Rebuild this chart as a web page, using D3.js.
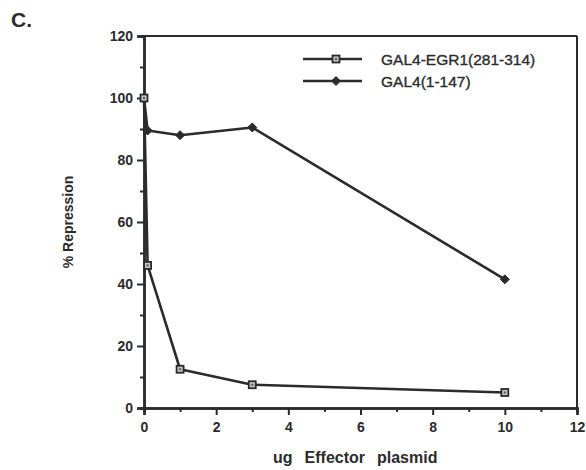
<!DOCTYPE html>
<html>
<head>
<meta charset="utf-8">
<script src="https://cdn.jsdelivr.net/npm/d3@7"></script>
<style>
  html, body { margin: 0; padding: 0; background: #fff; }
  svg { display: block; }
  text { font-family: "Liberation Sans", Arial, Helvetica, sans-serif; fill: #2b2b2b; }
</style>
</head>
<body>
<svg id="chart" width="586" height="470"></svg>
<script>
// ---- data ----
const seriesNames = ["GAL4-EGR1(281-314)", "GAL4(1-147)"];
const egr1X = [0, 0.1, 1, 3, 10];
const egr1Y = [100, 46, 12.5, 7.5, 5];
const gal4X = [0, 0.1, 1, 3, 10];
const gal4Y = [100, 89.5, 88, 90.5, 41.5];
const xMajorTicks = [0, 2, 4, 6, 8, 10, 12];
const xMinorTicks = [1, 3, 5, 7, 9, 11];
const yMajorTicks = [0, 20, 40, 60, 80, 100, 120];
const yMinorTicks = [10, 30, 50, 70, 90, 110];
const panelLabel = "C.";
const yTitle = "% Repression";
const xTitleWords = ["ug", "Effector", "plasmid"];

const ink = "#2b2b2b";
const svg = d3.select("#chart");
const x = d3.scaleLinear().domain([0, 12]).range([144, 577]);
const y = d3.scaleLinear().domain([0, 120]).range([408, 36]);

// frame top & right
svg.append("line").attr("x1", x(0)).attr("x2", x(12)).attr("y1", y(120)).attr("y2", y(120))
  .attr("stroke", ink).attr("stroke-width", 2);
svg.append("line").attr("x1", x(12)).attr("x2", x(12)).attr("y1", y(120)).attr("y2", y(0))
  .attr("stroke", ink).attr("stroke-width", 2);

// x axis
const xAxis = svg.append("g").attr("transform", `translate(0,${y(0)})`)
  .call(d3.axisBottom(x).tickValues(xMajorTicks).tickSize(7).tickPadding(6).tickFormat(d3.format("d")));
const xMinor = svg.append("g").attr("transform", `translate(0,${y(0)})`)
  .call(d3.axisBottom(x).tickValues(xMinorTicks).tickSize(4).tickFormat(""));
// y axis
const yAxis = svg.append("g").attr("transform", `translate(${x(0)},0)`)
  .call(d3.axisLeft(y).tickValues(yMajorTicks).tickSize(7).tickPadding(4).tickFormat(d3.format("d")));
const yMinor = svg.append("g").attr("transform", `translate(${x(0)},0)`)
  .call(d3.axisLeft(y).tickValues(yMinorTicks).tickSize(4).tickFormat(""));

[xAxis, xMinor, yAxis, yMinor].forEach(g => {
  g.select(".domain").attr("stroke", ink).attr("stroke-width", 2.5);
  g.selectAll(".tick line").attr("stroke", ink).attr("stroke-width", 2);
  g.selectAll(".tick text").attr("fill", ink)
    .style("font-family", '"Liberation Sans", Arial, sans-serif')
    .style("font-size", "14px").style("font-weight", "bold");
});
xAxis.selectAll(".tick text").attr("dy", "0.75em").attr("y", 13);

// lines
const line = d3.line().x(d => x(d[0])).y(d => y(d[1]));
const egr1 = egr1X.map((v, i) => [v, egr1Y[i]]);
const gal4 = gal4X.map((v, i) => [v, gal4Y[i]]);

svg.append("path").datum(gal4).attr("d", line).attr("fill", "none")
  .attr("stroke", ink).attr("stroke-width", 2.6).attr("stroke-linejoin", "round");
svg.append("path").datum(egr1).attr("d", line).attr("fill", "none")
  .attr("stroke", ink).attr("stroke-width", 2.6).attr("stroke-linejoin", "round");

function drawSquare(g, cx, cy) {
  g.append("rect").attr("x", cx - 3.5).attr("y", cy - 3.5).attr("width", 7).attr("height", 7)
    .attr("fill", "#c4c4c4").attr("stroke", ink).attr("stroke-width", 1.8);
  g.append("rect").attr("x", cx - 1).attr("y", cy - 1).attr("width", 2).attr("height", 2)
    .attr("fill", "#555");
}
function drawDiamond(g, cx, cy) {
  const r = 4.5;
  g.append("path").attr("d", `M${cx},${cy - r}L${cx + r},${cy}L${cx},${cy + r}L${cx - r},${cy}Z`)
    .attr("fill", ink).attr("stroke", ink).attr("stroke-width", 1).attr("stroke-linejoin", "round");
}
const marks = svg.append("g");
gal4.forEach(d => { if (d[0] > 0) drawDiamond(marks, x(d[0]), y(d[1])); });
egr1.forEach(d => drawSquare(marks, x(d[0]), y(d[1])));

// legend
const legend = svg.append("g");
const legY = [59, 81];
seriesNames.forEach((name, i) => {
  legend.append("line").attr("x1", 303).attr("x2", 362).attr("y1", legY[i]).attr("y2", legY[i])
    .attr("stroke", ink).attr("stroke-width", 2.5);
  if (i === 0) drawSquare(legend, 336, legY[i]); else drawDiamond(legend, 336, legY[i]);
  legend.append("text").attr("x", 381).attr("y", legY[i]).attr("dy", "0.36em")
    .style("font-size", "15.5px").attr("stroke", ink).attr("stroke-width", 0.35)
    .text(name);
});

// titles
svg.append("text").attr("x", 11).attr("y", 27).style("font-size", "21px").style("font-weight", "bold")
  .text(panelLabel);
svg.append("text").attr("transform", "translate(73,222) rotate(-90)").attr("text-anchor", "middle")
  .style("font-size", "14px").style("font-weight", "bold").text(yTitle);
const xTitle = svg.append("text").attr("x", 273).attr("y", 463)
  .style("font-size", "16px").style("font-weight", "bold");
xTitleWords.forEach((w, i) => {
  xTitle.append("tspan").attr("dx", i === 0 ? 0 : 12).text(w);
});
</script>
</body>
</html>
